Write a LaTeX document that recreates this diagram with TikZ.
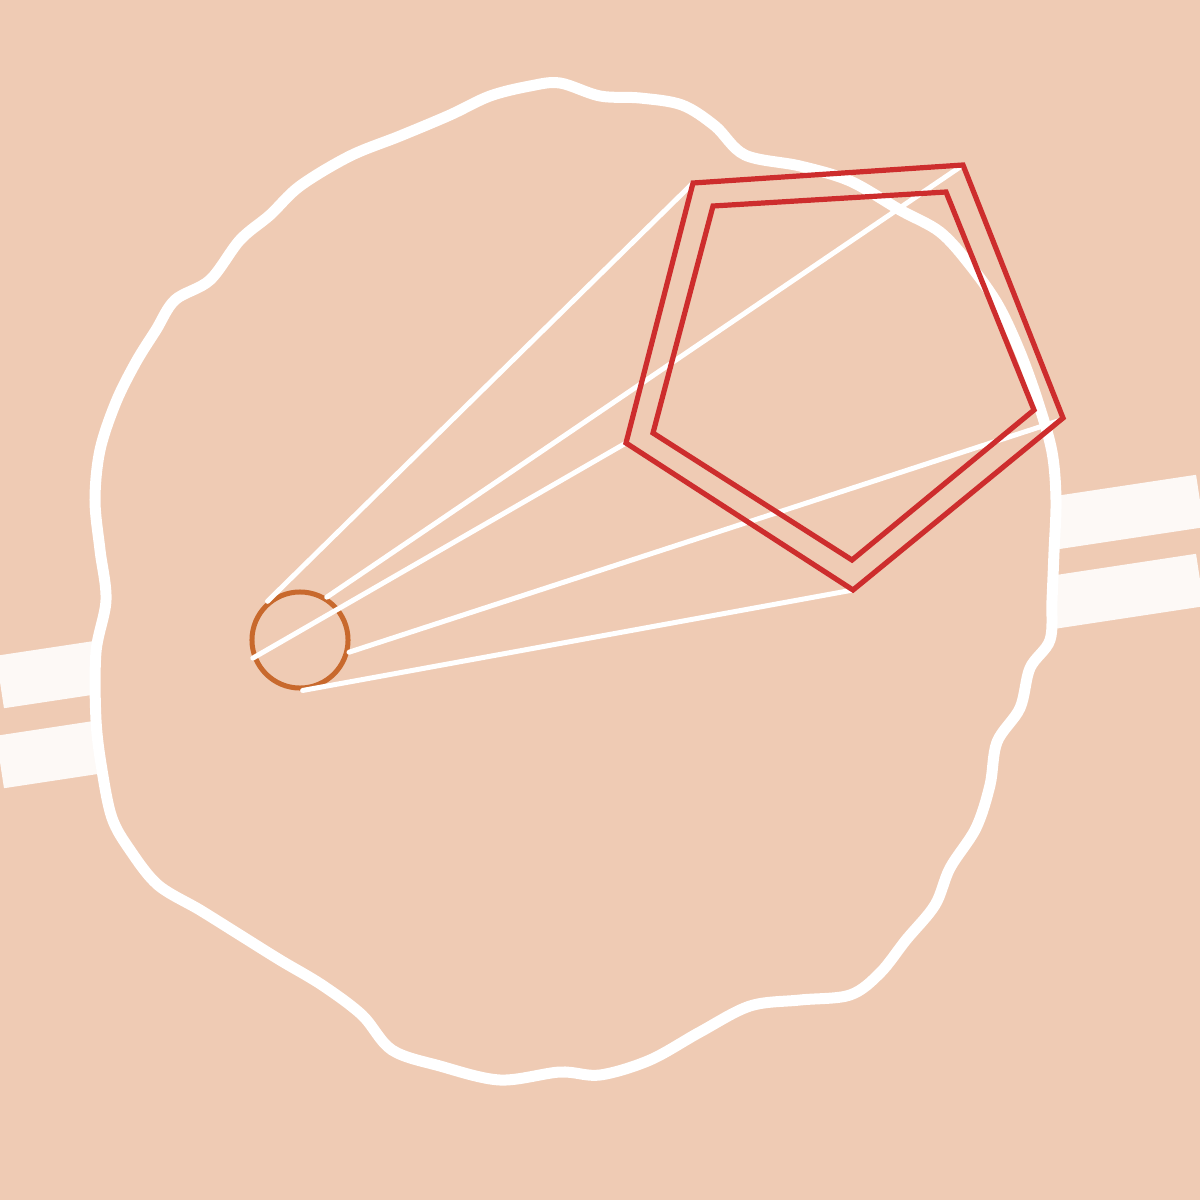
\documentclass[tikz,border=0pt]{standalone}
\usepackage{xcolor}
\usetikzlibrary{positioning}
\definecolor{bgc}{RGB}{239,203,180}
\definecolor{bandc}{RGB}{253,249,246}
\definecolor{hubc}{RGB}{200,105,45}
\definecolor{penc}{RGB}{205,45,45}

\begin{document}
\begin{tikzpicture}[x=0.01cm,y=-0.01cm,line join=round,
  ray/.style={white,line width=0.05cm,line cap=round},
  pent/.style={penc,line width=0.052cm,line join=miter}]
% background
\fill[bgc] (0,0) rectangle (1200,1200);
\useasboundingbox (0,0) rectangle (1200,1200);
% two bands passing behind the blob
\draw[bandc,line width=0.53cm] (0,682) -- (1200,501);
\draw[bandc,line width=0.53cm] (0,762) -- (1200,580);
% wavy blob
\filldraw[fill=bgc,draw=white,line width=0.11cm] plot[smooth cycle,tension=0.55] coordinates{
  (560,83) (600,96) (640,98) (682,105) (715,126) (745,155) (800,166) (850,181)
  (900,210) (940,232) (970,265) (998,305) (1020,352) (1038,402) (1052,452)
  (1056,500) (1054,552) (1052,600) (1050,640) (1030,668) (1020,708) (997,742)
  (990,785) (976,828) (950,868) (935,905) (906,940) (880,973) (850,995)
  (800,1000) (750,1006) (700,1032) (650,1060) (600,1075) (560,1072) (500,1080)
  (440,1066) (392,1050) (362,1015) (322,985) (280,960) (240,935) (200,910)
  (158,885) (130,850) (112,818) (102,770) (96,720) (96,652) (106,600)
  (100,550) (95,500) (100,450) (116,402) (136,362) (156,330) (175,300)
  (210,280) (240,240) (270,215) (300,186) (350,156) (400,136) (450,115)
  (490,96) (530,86)};
% hub circle
\node[draw=hubc,line width=0.05cm,circle,inner sep=0pt,minimum size=0.96cm] (hub) at (300,640) {};
% pentagon corners
\coordinate (o1) at (693,183); \coordinate (o2) at (963,165); \coordinate (o3) at (1063,418);
\coordinate (o4) at (853,590); \coordinate (o5) at (626,443);
\coordinate (i1) at (713,206); \coordinate (i2) at (946,192); \coordinate (i3) at (1034,410);
\coordinate (i4) at (852,560); \coordinate (i5) at (653,433);
% rays
\draw[ray] (hub.130) -- (o1);
\draw[ray] (hub.58) -- (o2);
\draw[ray] (hub.201) -- (o5);
\draw[ray] (hub.346) -- ([shift={(-5,3)}]o3);
\draw[ray] (hub.273) -- (o4);
% pentagons
\draw[pent] (o1) -- (o2) -- (o3) -- (o4) -- (o5) -- cycle;
\draw[pent] (i1) -- (i2) -- (i3) -- (i4) -- (i5) -- cycle;
\end{tikzpicture}
\end{document}
